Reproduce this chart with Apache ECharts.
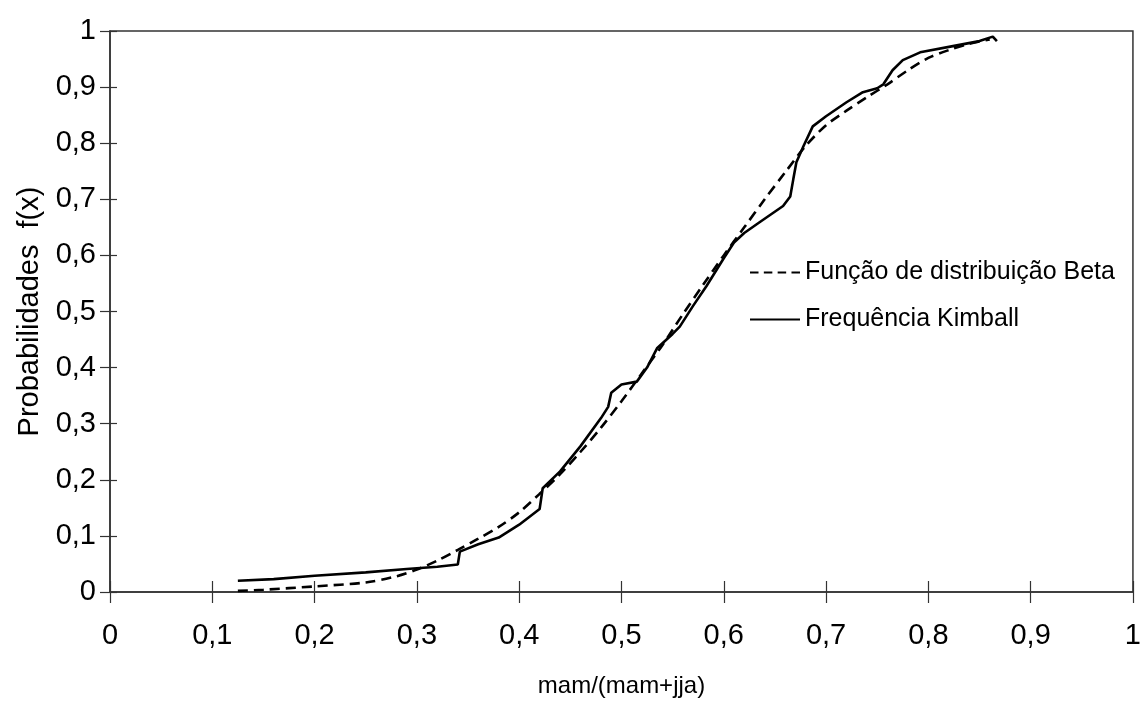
<!DOCTYPE html>
<html>
<head>
<meta charset="utf-8">
<script src="https://cdn.jsdelivr.net/npm/echarts@6/dist/echarts.min.js"></script>
<style>
html,body{margin:0;padding:0;background:#fff;}
#chart{width:1144px;height:708px;}
</style>
</head>
<body>
<div id="chart"></div>
<script>
var xTickLabels = ['0','0,1','0,2','0,3','0,4','0,5','0,6','0,7','0,8','0,9','1'];
var yTickLabels = ['0','0,1','0,2','0,3','0,4','0,5','0,6','0,7','0,8','0,9','1'];
var seriesNames = ['Função de distribuição Beta', 'Frequência Kimball'];

var betaX = [0.125,0.15,0.20,0.25,0.28,0.30,0.32,0.34,0.36,0.38,0.40,0.42,0.44,0.46,0.48,0.50,0.52,0.54,0.56,0.58,0.60,0.62,0.64,0.66,0.68,0.70,0.72,0.74,0.76,0.78,0.80,0.82,0.84,0.86];
var betaY = [0.002,0.004,0.010,0.017,0.028,0.040,0.056,0.075,0.095,0.116,0.142,0.175,0.210,0.250,0.293,0.340,0.390,0.440,0.495,0.548,0.600,0.650,0.700,0.748,0.795,0.832,0.858,0.882,0.905,0.930,0.952,0.966,0.977,0.985];

var kimballX = [0.125,0.16,0.20,0.25,0.29,0.32,0.34,0.342,0.36,0.38,0.40,0.42,0.423,0.44,0.46,0.48,0.487,0.49,0.50,0.515,0.525,0.535,0.55,0.557,0.57,0.583,0.60,0.61,0.62,0.635,0.658,0.665,0.668,0.671,0.678,0.687,0.70,0.72,0.736,0.75,0.756,0.765,0.775,0.792,0.824,0.85,0.863,0.867];
var kimballY = [0.020,0.023,0.029,0.035,0.041,0.045,0.049,0.072,0.085,0.097,0.120,0.148,0.185,0.215,0.260,0.310,0.330,0.355,0.370,0.375,0.400,0.435,0.460,0.473,0.510,0.545,0.595,0.623,0.640,0.659,0.688,0.705,0.736,0.766,0.795,0.830,0.848,0.873,0.891,0.898,0.905,0.930,0.948,0.962,0.973,0.982,0.990,0.982];

function pairs(xs, ys){ return xs.map(function(x,i){ return [x, ys[i]]; }); }

var FONT = 'Liberation Sans, Arial, sans-serif';
var axisColor = '#333';
var DASH_ICON = 'path://M0,0h8v2h-8zM13,0h8v2h-8zM26,0h8v2h-8zM39,0h8v2h-8z';
var SOLID_ICON = 'path://M0,0h50v2h-50z';

function labelFmt(arr){ return function(v){ return arr[Math.round(v*10)]; }; }

var chart = echarts.init(document.getElementById('chart'), null, {renderer:'canvas'});
chart.setOption({
  animation:false,
  backgroundColor:'#fff',
  grid:{left:110, right:11, top:31, bottom:116, show:true, borderColor:'#333', borderWidth:1.5, backgroundColor:'transparent'},
  legend:{
    orient:'vertical', left:745, top:255, itemWidth:50, itemHeight:3, itemGap:22,
    textStyle:{fontFamily:FONT, fontSize:25, color:'#000'},
    itemStyle:{color:'#000', borderWidth:0},
    data:[{name:seriesNames[0], icon:DASH_ICON},{name:seriesNames[1], icon:SOLID_ICON}]
  },
  xAxis:[{
    type:'value', min:0, max:1, interval:0.1,
    name:'mam/(mam+jja)', nameLocation:'middle', nameGap:82,
    nameTextStyle:{fontFamily:FONT, fontSize:24, color:'#000'},
    axisLine:{show:true, lineStyle:{color:axisColor, width:1.5}},
    axisTick:{show:true, length:11, lineStyle:{color:axisColor, width:1.2}},
    axisLabel:{formatter:labelFmt(xTickLabels), fontFamily:FONT, fontSize:29, color:'#000', margin:29},
    splitLine:{show:false}
  },{
    type:'value', min:0, max:1, interval:0.1, position:'bottom',
    axisLine:{show:false}, axisLabel:{show:false}, splitLine:{show:false},
    axisTick:{show:true, inside:true, length:11, lineStyle:{color:axisColor, width:1.2}}
  }],
  yAxis:[{
    type:'value', min:0, max:1, interval:0.1,
    name:'Probabilidades  f(x)', nameLocation:'middle', nameGap:66,
    nameTextStyle:{fontFamily:FONT, fontSize:29, color:'#000'},
    axisLine:{show:true, lineStyle:{color:axisColor, width:1.5}},
    axisTick:{show:true, length:10, lineStyle:{color:axisColor, width:1.2}},
    axisLabel:{formatter:labelFmt(yTickLabels), fontFamily:FONT, fontSize:29, color:'#000', margin:14},
    splitLine:{show:false}
  },{
    type:'value', min:0, max:1, interval:0.1, position:'left',
    axisLine:{show:false}, axisLabel:{show:false}, splitLine:{show:false},
    axisTick:{show:true, inside:true, length:7, lineStyle:{color:axisColor, width:1.2}}
  }],
  series:[{
    name:seriesNames[0], type:'line', data:pairs(betaX, betaY), showSymbol:false, symbol:'none', smooth:0.3,
    lineStyle:{color:'#000', width:2.6, type:[10,6]}, itemStyle:{color:'#000'}
  },{
    name:seriesNames[1], type:'line', data:pairs(kimballX, kimballY), showSymbol:false, symbol:'none',
    lineStyle:{color:'#000', width:2.6, type:'solid'}, itemStyle:{color:'#000'}
  }]
});
</script>
</body>
</html>
